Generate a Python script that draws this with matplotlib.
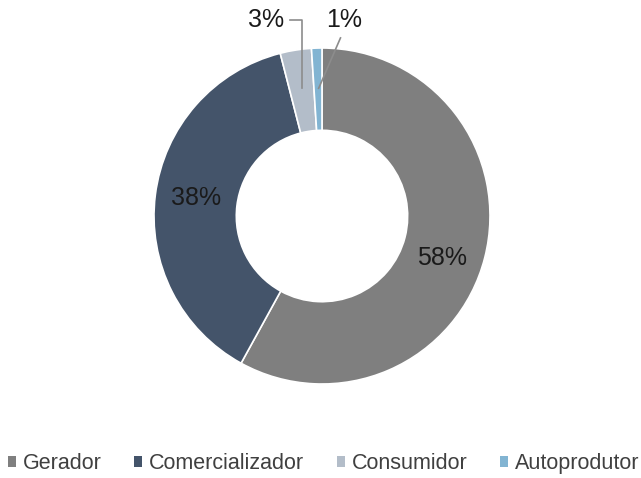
import numpy as np
import matplotlib.pyplot as plt
from matplotlib.patches import Patch

plt.rcParams['font.family'] = ['Liberation Sans', 'DejaVu Sans']

categorias = ["Gerador", "Comercializador", "Consumidor", "Autoprodutor"]
valores = [58, 38, 3, 1]
cores = ["#7f7f7f", "#44546a", "#b3bdc9", "#82b4d2"]

fig = plt.figure(figsize=(6.41, 4.78), dpi=100)
W, H = 641, 478
cx, cy, r = 322, 216, 168
ax = fig.add_axes([(cx - r) / W, (H - cy - r) / H, 2 * r / W, 2 * r / H])

wedges, _ = ax.pie(valores, colors=cores, startangle=90, counterclock=False,
                   radius=1.0, wedgeprops=dict(width=0.49, edgecolor="white", linewidth=1.2))
ax.set_xlim(-1, 1)
ax.set_ylim(-1, 1)
ax.set_aspect("equal")
ax.axis("off")

# rótulos das fatias grandes dentro do anel
ajuste = {0: -5, 1: -1}  # deslocamento angular (graus) dos rótulos
total = sum(valores)
acum = 0
for i, v in enumerate(valores):
    meio = 90 - (acum + v / 2) / total * 360
    acum += v
    if v >= 10:
        a = np.deg2rad(meio + ajuste.get(i, 0))
        ax.text(0.76 * np.cos(a), 0.76 * np.sin(a), f"{v}%", ha="center", va="center",
                fontsize=18, color="#1a1a1a")

# rótulos das fatias pequenas com linhas de chamada
lc = "#8c8c8c"
ax.text(-0.33, 1.167, f"{valores[2]}%", ha="center", va="center", fontsize=18, color="#1a1a1a")
ax.plot([-0.19, -0.12, -0.12], [1.167, 1.167, 0.76], color=lc, lw=1.2, clip_on=False)
ax.text(0.13, 1.167, f"{valores[3]}%", ha="center", va="center", fontsize=18, color="#1a1a1a")
ax.plot([0.11, -0.02], [1.06, 0.76], color=lc, lw=1.2, clip_on=False)

handles = [Patch(facecolor=c, edgecolor="none") for c in cores]
fig.legend(handles, categorias, loc="center", bbox_to_anchor=(0.505, 0.03), ncol=4,
           frameon=False, fontsize=15.5, handlelength=0.37, handleheight=0.37,
           handletextpad=0.33, columnspacing=1.5, labelcolor="#404040")

fig.savefig("out.png", dpi=100)
